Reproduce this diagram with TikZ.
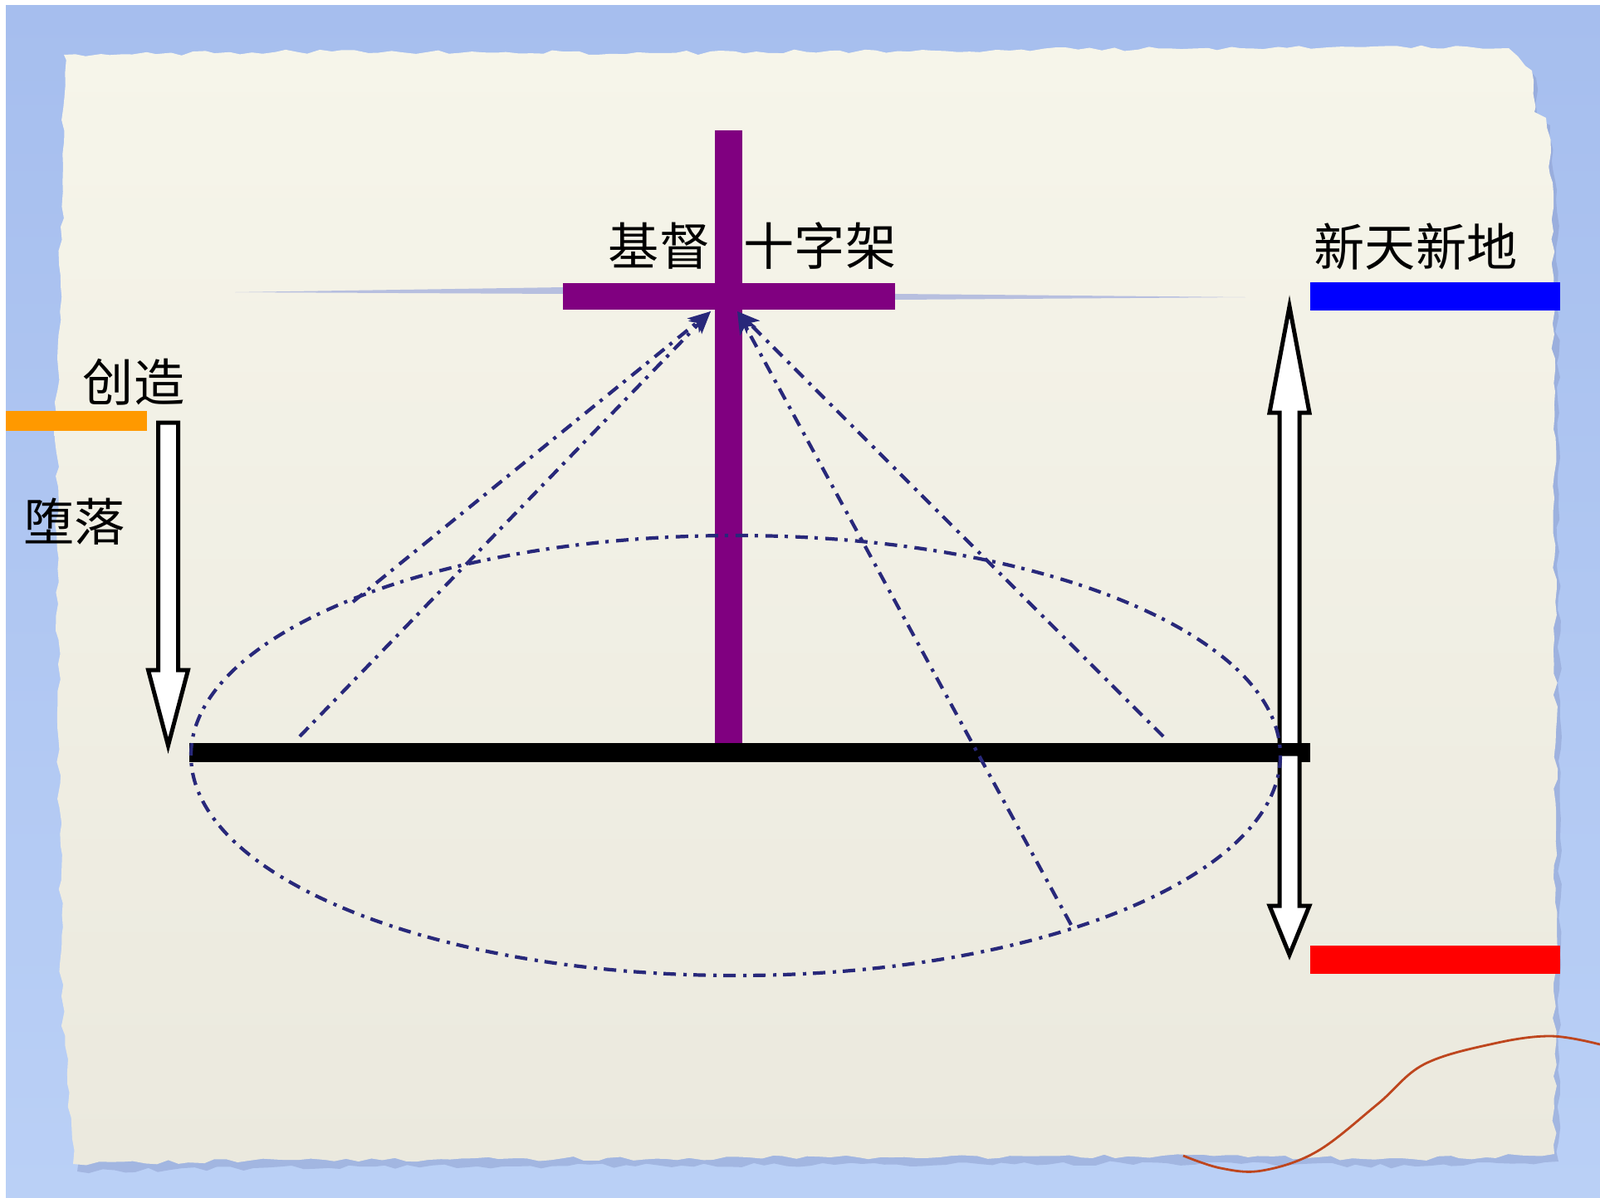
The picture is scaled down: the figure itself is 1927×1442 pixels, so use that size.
\documentclass[tikz,border=0pt]{standalone}
\usepackage{fontspec}
\newfontfamily\cjk{Noto Sans CJK SC}
\usetikzlibrary{arrows.meta,decorations.pathmorphing}
\definecolor{bgblue}{RGB}{166,190,238}
\definecolor{bgblue2}{RGB}{186,208,246}
\definecolor{paperA}{RGB}{246,245,234}
\definecolor{paperB}{RGB}{235,233,222}
\definecolor{navy}{RGB}{40,40,122}
\definecolor{crosspurple}{RGB}{128,0,128}
\definecolor{orangebar}{RGB}{255,153,0}
\definecolor{threadred}{RGB}{190,70,30}
\definecolor{streak}{RGB}{110,130,215}
\definecolor{shadowblue}{RGB}{135,152,200}
\newcommand\paperoutline{(77,66) -- (400,62) -- (800,64) -- (1200,60) -- (1600,57) -- (1817,58) -- (1845,85) -- (1848,135) -- (1862,142) -- (1870,220) -- (1872,600) -- (1874,1000) -- (1872,1390) -- (1700,1396) -- (1400,1392) -- (1000,1394) -- (600,1396) -- (300,1398) -- (88,1402) -- (74,1200) -- (70,800) -- (68,500) -- (76,200) -- cycle}
\tikzset{
 lbl/.style={font=\cjk\fontsize{17.4pt}{20pt}\selectfont, inner sep=0pt, text=black},
 bigarrow/.style={fill=white, draw=black, line width=0.05cm, line join=miter},
 dashdot/.style={draw=navy, line width=0.042cm, dash pattern=on 0.15cm off 0.08cm on 0.04cm off 0.09cm},
 conn/.style={dashdot, -{Stealth[length=0.27cm,width=0.22cm,inset=0.07cm]}},
 rough/.style={decorate, decoration={random steps, segment length=4pt, amplitude=0.8pt}},
}
\begin{document}
\begin{tikzpicture}[x=0.01cm,y=-0.01cm]
\useasboundingbox (0,0) rectangle (1927,1442);
\fill[white] (0,0) rectangle (1927,1442);
\shade[top color=bgblue, bottom color=bgblue2] (7,6) rectangle (1927,1442);
% paper shadow and paper
\fill[shadowblue, opacity=0.45, shift={(5,9)}, rough] \paperoutline;
\shade[top color=paperA, bottom color=paperB, rough] \paperoutline;
% faint blue streak
\fill[streak, opacity=0.45] (283,352) -- (680,346) -- (1080,354) -- (1500,358) -- (1080,361) -- (680,354) -- cycle;
% thread
\draw[threadred, line width=0.028cm] plot[smooth, tension=0.6] coordinates {(1425,1392) (1470,1407) (1520,1410) (1586,1387) (1659,1330) (1715,1282) (1799,1257) (1868,1248) (1927,1258)};
% coloured bars
\fill[orangebar] (7,495) rectangle (177,519);
\fill[blue] (1578,340) rectangle (1879,374);
\fill[red] (1578,1139) rectangle (1879,1173);
% labels
\node[lbl, anchor=east] (jidu) at (856,296) {基督};
\node[lbl, anchor=east] (szj) at (1080,296) {十字架};
\node[lbl] (cz) at (161,460) {创造};
\node[lbl] (dl) at (90,628) {堕落};
\node[lbl] (xtxd) at (1705,297) {新天新地};
% cross
\fill[crosspurple] (678,341) rectangle (1078,373);
\fill[crosspurple] (861,157) rectangle (894,895);
% left arrow (fall)
\draw[bigarrow] (190.5,509) -- (214.5,509) -- (214.5,807) -- (226.5,807) -- (202.5,898) -- (178.5,807) -- (190.5,807) -- cycle;
% right up arrow
\draw[bigarrow] (1541,908) -- (1541,497) -- (1529,497) -- (1553,369) -- (1577,497) -- (1565,497) -- (1565,908) -- cycle;
% black ground bar
\fill[black] (228,895) rectangle (1578,918);
% right down arrow
\draw[bigarrow] (1541,908) -- (1541,1091) -- (1529,1091) -- (1553,1150) -- (1577,1091) -- (1565,1091) -- (1565,908) -- cycle;
% dashed connectors
\coordinate (tipL) at (856,375);
\coordinate (tipR) at (888,375);
\coordinate (l1) at (425,725);
\coordinate (l2) at (361,887);
\coordinate (r1) at (1401,887);
\coordinate (r2) at (1290,1114);
\draw[conn] (l1) -- (tipL);
\draw[conn] (l2) -- (tipL);
\draw[conn] (r1) -- (tipR);
\draw[conn] (r2) -- (tipR);
\draw[dashdot] (886,910) ellipse [x radius=656, y radius=265];
\end{tikzpicture}
\end{document}
